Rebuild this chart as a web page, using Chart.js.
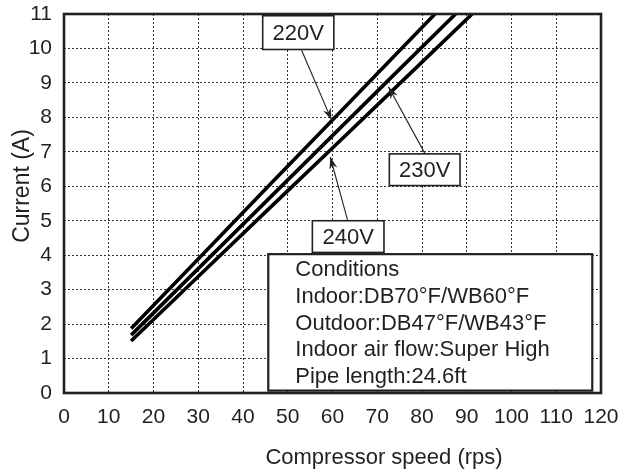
<!DOCTYPE html>
<html><head><meta charset="utf-8">
<script src="https://cdn.jsdelivr.net/npm/chart.js@4.4.1/dist/chart.umd.min.js"></script>
<style>html,body{margin:0;padding:0;background:#fff}#wrap{width:634px;height:474px;position:relative}</style>
</head><body><div id="wrap"><canvas id="c" width="634" height="474"></canvas></div>
<script>
// ---- data ----
const speed220 = [15, 30, 45, 60, 75, 82.9];
const current220 = [1.87, 3.89, 5.91, 7.92, 9.94, 11];
const speed230 = [15, 30, 45, 60, 75, 87.5];
const current230 = [1.68, 3.61, 5.54, 7.47, 9.40, 11];
const speed240 = [15, 30, 45, 60, 75, 91.2];
const current240 = [1.51, 3.38, 5.25, 7.11, 8.98, 11];
const seriesLabels = ['220V', '230V', '240V'];
const xTicksMax = 120, xStep = 10;
const yTicksMax = 11, yStep = 1;
const xTitle = 'Compressor speed (rps)';
const yTitle = 'Current (A)';
const conditionLines = ['Conditions', 'Indoor:DB70°F/WB60°F', 'Outdoor:DB47°F/WB43°F', 'Indoor air flow:Super High', 'Pipe length:24.6ft'];

const FONT = '"Liberation Sans", Arial, Helvetica, sans-serif';
const INK = '#231f20';
const mk = (xs, ys) => xs.map((x, i) => ({x: x, y: ys[i]}));

// label boxes / arrows in data units: [x0, x1, y0, y1], arrow from -> to
const callouts = [
  {text: seriesLabels[0], box: [44.4, 60.3, 9.97, 10.95], from: [53.1, 9.95], to: [59.8, 7.92]},
  {text: seriesLabels[1], box: [72.7, 88.5, 6.02, 6.94], from: [80.7, 6.94], to: [72.5, 8.89]},
  {text: seriesLabels[2], box: [55.5, 71.5, 4.08, 5.0], from: [63.4, 5.0], to: [59.5, 6.85]}
];
const condBox = [45.65, 118.05, 0.07, 4.03];

function arrow(ctx, x1, y1, x2, y2) {
  ctx.beginPath(); ctx.moveTo(x1, y1); ctx.lineTo(x2, y2); ctx.stroke();
  const a = Math.atan2(y2 - y1, x2 - x1), L = 12, W = 4;
  const bx = x2 - L * Math.cos(a), by = y2 - L * Math.sin(a);
  const nx = x2 - (L * 0.7) * Math.cos(a), ny = y2 - (L * 0.7) * Math.sin(a);
  ctx.beginPath();
  ctx.moveTo(x2, y2);
  ctx.lineTo(bx + W * Math.sin(a), by - W * Math.cos(a));
  ctx.lineTo(nx, ny);
  ctx.lineTo(bx - W * Math.sin(a), by + W * Math.cos(a));
  ctx.closePath(); ctx.fill();
}

const annot = {
  id: 'annot',
  afterDatasetsDraw(chart) {
    const ctx = chart.ctx, xs = chart.scales.x, ys = chart.scales.y;
    ctx.save();
    ctx.fillStyle = INK; ctx.strokeStyle = INK;
    callouts.forEach(c => {
      const x0 = xs.getPixelForValue(c.box[0]), x1 = xs.getPixelForValue(c.box[1]);
      const y0 = ys.getPixelForValue(c.box[3]), y1 = ys.getPixelForValue(c.box[2]);
      ctx.fillStyle = '#fff'; ctx.fillRect(x0, y0, x1 - x0, y1 - y0);
      ctx.lineWidth = 1.6; ctx.strokeStyle = INK; ctx.strokeRect(x0, y0, x1 - x0, y1 - y0);
      ctx.fillStyle = INK; ctx.font = '22px ' + FONT; ctx.textAlign = 'center'; ctx.textBaseline = 'middle';
      ctx.fillText(c.text, (x0 + x1) / 2, (y0 + y1) / 2 + 1);
      ctx.lineWidth = 1.1;
      arrow(ctx, xs.getPixelForValue(c.from[0]), ys.getPixelForValue(c.from[1]), xs.getPixelForValue(c.to[0]), ys.getPixelForValue(c.to[1]));
    });
    const cx0 = xs.getPixelForValue(condBox[0]), cx1 = xs.getPixelForValue(condBox[1]);
    const cy0 = ys.getPixelForValue(condBox[3]), cy1 = ys.getPixelForValue(condBox[2]);
    ctx.fillStyle = '#fff'; ctx.fillRect(cx0, cy0, cx1 - cx0, cy1 - cy0);
    ctx.lineWidth = 2.2; ctx.strokeStyle = INK; ctx.strokeRect(cx0, cy0, cx1 - cx0, cy1 - cy0);
    ctx.fillStyle = INK; ctx.font = '22px ' + FONT; ctx.textAlign = 'left'; ctx.textBaseline = 'middle';
    conditionLines.forEach((t, i) => ctx.fillText(t, cx0 + 27, cy0 + 16 + i * 26.7));
    ctx.restore();
  },
  afterDraw(chart) {
    const ctx = chart.ctx, a = chart.chartArea;
    ctx.save();
    ctx.lineWidth = 2.6; ctx.strokeStyle = INK;
    ctx.strokeRect(a.left, a.top, a.right - a.left, a.bottom - a.top);
    ctx.fillStyle = INK; ctx.textAlign = 'center'; ctx.textBaseline = 'middle';
    ctx.font = '22px ' + FONT;
    ctx.fillText(xTitle, 384, 458);
    ctx.font = '23px ' + FONT;
    ctx.translate(23, 186); ctx.rotate(-Math.PI / 2);
    ctx.fillText(yTitle, 0, 0);
    ctx.restore();
  }
};

const ds = (label, xs, ys) => ({label: label, data: mk(xs, ys), showLine: true, borderColor: '#000', borderWidth: 3.6, pointRadius: 0, fill: false, tension: 0, borderCapStyle: 'butt'});

new Chart(document.getElementById('c'), {
  type: 'scatter',
  data: {datasets: [ds(seriesLabels[0], speed220, current220), ds(seriesLabels[1], speed230, current230), ds(seriesLabels[2], speed240, current240)]},
  options: {
    responsive: false, animation: false, devicePixelRatio: 1,
    layout: {padding: {top: 14, right: 33, left: 0, bottom: 0}},
    plugins: {legend: {display: false}, tooltip: {enabled: false}},
    scales: {
      x: {type: 'linear', min: 0, max: xTicksMax,
        ticks: {stepSize: xStep, color: INK, font: {family: FONT, size: 21}, padding: 12, maxRotation: 0, autoSkip: false},
        grid: {color: '#333', lineWidth: 1, drawTicks: false},
        border: {display: false, dash: [2, 2]},
        afterFit(s) { s.height = 81; s.paddingLeft = 0; s.paddingRight = 0; }},
      y: {type: 'linear', min: 0, max: yTicksMax,
        ticks: {stepSize: yStep, color: INK, font: {family: FONT, size: 21}, padding: 12, autoSkip: false},
        grid: {color: '#333', lineWidth: 1, drawTicks: false},
        border: {display: false, dash: [2, 2]},
        afterFit(s) { s.width = 64; s.paddingTop = 0; s.paddingBottom = 0; }}
    }
  },
  plugins: [annot]
});
</script></body></html>
